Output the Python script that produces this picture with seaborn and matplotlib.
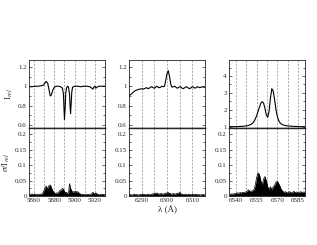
import numpy as np
import seaborn as sns
import matplotlib
matplotlib.use("Agg")
import matplotlib.pyplot as plt
from matplotlib.ticker import MultipleLocator, FuncFormatter

# ---- Na D region (5855-5930 A) ----
wl_na = [5855, 5858, 5861, 5864, 5867, 5869, 5870.5, 5872, 5873.5, 5875, 5876, 5877,
         5878.5, 5880, 5882, 5884, 5886, 5888, 5889, 5889.5, 5890, 5890.6, 5891.2, 5892,
         5893, 5894, 5895, 5895.5, 5896, 5896.6, 5897.2, 5898, 5900, 5903, 5906, 5909,
         5912, 5915, 5917, 5918, 5919, 5920, 5921, 5922, 5924, 5927, 5930]
irel_na = [0.995, 0.995, 1.0, 1.0, 1.005, 1.01, 1.03, 1.05, 1.03, 0.95, 0.90, 0.91,
           0.96, 0.99, 1.0, 1.0, 0.995, 0.98, 0.92, 0.78, 0.66, 0.76, 0.92, 0.98,
           1.0, 0.99, 0.92, 0.80, 0.72, 0.82, 0.94, 0.99, 1.0, 1.0, 0.995, 1.0,
           1.0, 0.995, 0.98, 0.97, 0.99, 1.0, 0.98, 0.99, 1.0, 1.0, 1.0]
wl_na_s = np.arange(5855, 5931, 1.0)
sig_na = [0.004, 0.006, 0.005, 0.007, 0.005, 0.004, 0.006, 0.005, 0.004, 0.006,
          0.005, 0.006, 0.004, 0.008, 0.012,
          0.020, 0.028, 0.032, 0.022, 0.030, 0.034, 0.036, 0.028, 0.020, 0.014, 0.010,
          0.008, 0.010, 0.009, 0.012, 0.015, 0.020, 0.018,
          0.025, 0.022, 0.015, 0.010, 0.012, 0.008,
          0.010, 0.040, 0.025, 0.018, 0.012, 0.014,
          0.013, 0.016, 0.012, 0.014, 0.011, 0.008, 0.006, 0.005, 0.006, 0.004, 0.005,
          0.004, 0.005, 0.006, 0.004, 0.005, 0.006, 0.008, 0.012, 0.009, 0.006,
          0.010, 0.007, 0.005, 0.004, 0.005, 0.004, 0.006, 0.005, 0.004, 0.005]

# ---- [O I] region (6285-6315 A) ----
wl_oi = np.arange(6285, 6315.01, 0.5)
irel_oi = [0.90, 0.91, 0.92, 0.935, 0.945, 0.955, 0.96, 0.965, 0.97, 0.97,
           0.975, 0.97, 0.975, 0.98, 0.985, 0.975, 0.98, 0.99, 0.995, 0.985,
           0.98, 0.99, 1.0, 0.99, 0.985, 0.99, 1.0, 0.995, 1.0, 1.06,
           1.13, 1.16, 1.10, 1.02, 0.99, 0.995, 1.0, 0.99, 0.98, 0.985,
           0.995, 0.99, 0.98, 0.975, 0.985, 0.995, 0.99, 0.98, 0.975, 0.985,
           0.995, 0.99, 0.98, 0.985, 0.995, 0.99, 0.985, 0.99, 0.995, 0.99,
           0.99]
sig_oi = [0.004, 0.005, 0.003, 0.004, 0.006, 0.004, 0.005, 0.003, 0.004, 0.005,
          0.004, 0.006, 0.005, 0.004, 0.005, 0.006, 0.004, 0.005, 0.006, 0.007,
          0.009, 0.008, 0.010, 0.007, 0.006, 0.008, 0.007, 0.006, 0.008, 0.009,
          0.010, 0.011, 0.009, 0.007, 0.006, 0.008, 0.006, 0.007, 0.009, 0.008,
          0.012, 0.007, 0.006, 0.005, 0.006, 0.005, 0.004, 0.006, 0.005, 0.004,
          0.005, 0.004, 0.006, 0.005, 0.004, 0.005, 0.003, 0.004, 0.005, 0.004,
          0.004]

# ---- H-alpha region (6535-6590 A) ----
wl_ha = np.arange(6535, 6591, 1.0)
irel_ha = [1.0, 1.0, 1.0, 1.0, 1.0, 1.0, 1.0, 1.01, 1.01, 1.02,
           1.02, 1.03, 1.04, 1.05, 1.07, 1.10, 1.14, 1.20, 1.30, 1.45,
           1.65, 1.90, 2.15, 2.38, 2.48, 2.40, 2.10, 1.70, 1.55, 1.90,
           2.70, 3.25, 3.10, 2.60, 2.00, 1.60, 1.35, 1.22, 1.15, 1.11,
           1.08, 1.06, 1.05, 1.04, 1.03, 1.03, 1.02, 1.02, 1.01, 1.01,
           1.01, 1.0, 1.0, 1.0, 1.0, 1.0]
sig_ha = [0.005, 0.006, 0.007, 0.006, 0.008, 0.008, 0.010, 0.009, 0.011, 0.010,
          0.012, 0.011, 0.013, 0.015, 0.020, 0.016, 0.014, 0.018, 0.020, 0.035,
          0.060, 0.075, 0.070, 0.050, 0.035, 0.055, 0.063, 0.050, 0.030, 0.022,
          0.030, 0.020, 0.030, 0.035, 0.045, 0.048, 0.040, 0.030, 0.020, 0.015,
          0.012, 0.014, 0.010, 0.012, 0.014, 0.010, 0.012, 0.015, 0.011, 0.013,
          0.010, 0.012, 0.014, 0.011, 0.013, 0.012]

sns.set_style("ticks")
plt.rcParams['font.family'] = ['Liberation Serif', 'DejaVu Serif']
plt.rcParams['mathtext.fontset'] = 'stix'
plt.rcParams['font.size'] = 5

fig = plt.figure(figsize=(3.17, 2.45), dpi=100)

panels = [
    (wl_na, irel_na, wl_na_s, sig_na, (5855, 5930), 20, 10, (0.57, 1.27), 0.2, 0.1),
    (wl_oi, irel_oi, wl_oi, sig_oi, (6285, 6315), 10, 5, (0.57, 1.27), 0.2, 0.1),
    (wl_ha, irel_ha, wl_ha, sig_ha, (6535, 6590), 15, 7.5, (0.92, 4.95), 1, 0.5),
]
lefts = [29 / 317, 129 / 317, 229 / 317]
w = 76 / 317
h = 68 / 245
fmt = FuncFormatter(lambda v, p: "%g" % v)

for i, (xt, yt, xs, ys, xl, xmaj, xmin, yl, ymaj, ymin) in enumerate(panels):
    ax_t = fig.add_axes([lefts[i], 1 - 128 / 245, w, h])
    ax_b = fig.add_axes([lefts[i], 1 - 196 / 245, w, h])

    sns.lineplot(x=xt, y=yt, ax=ax_t, color="black", lw=0.8)
    sns.lineplot(x=xs, y=ys, ax=ax_b, color="black", lw=0.5)
    ax_b.fill_between(xs, 0, ys, color="black", lw=0)

    for ax in (ax_t, ax_b):
        ax.set_xlim(*xl)
        ax.xaxis.set_major_locator(MultipleLocator(xmaj))
        ax.xaxis.set_minor_locator(MultipleLocator(xmin))
        ax.grid(axis="x", which="both", ls=(0, (3, 2)), color="0.55", lw=0.5)
        ax.tick_params(which="both", direction="in", left=True, right=True,
                       top=False, labelsize=5, pad=1.5)
        ax.tick_params(which="major", length=2.5, width=0.5)
        ax.tick_params(which="minor", length=1.5, width=0.5)
        ax.tick_params(axis="x", which="minor", length=0)
        ax.set_xlabel("")
        ax.set_ylabel("")
        for s in ax.spines.values():
            s.set_linewidth(0.6)
        ax.yaxis.set_major_formatter(fmt)

    ax_t.set_ylim(*yl)
    ax_t.yaxis.set_major_locator(MultipleLocator(ymaj))
    ax_t.yaxis.set_minor_locator(MultipleLocator(ymin))
    ax_t.tick_params(axis="x", which="both", length=0, labelbottom=False)
    ax_t.spines["bottom"].set_linewidth(1.0)

    ax_b.set_ylim(0, 0.22)
    ax_b.yaxis.set_major_locator(MultipleLocator(0.05))
    ax_b.yaxis.set_minor_locator(MultipleLocator(0.025))
    ax_b.spines["top"].set_linewidth(1.0)
    ax_b.tick_params(axis="x", which="major", length=2)

    if i == 0:
        ax_t.set_ylabel(r"I$_{rel}$", fontsize=6.5, labelpad=2)
        ax_b.set_ylabel(r"$\sigma$/I$_{rel}$", fontsize=6.5, labelpad=2)
    if i == 1:
        ax_b.set_xlabel("λ (Å)", fontsize=6.5, labelpad=2)

fig.savefig("out.png", dpi=100)
